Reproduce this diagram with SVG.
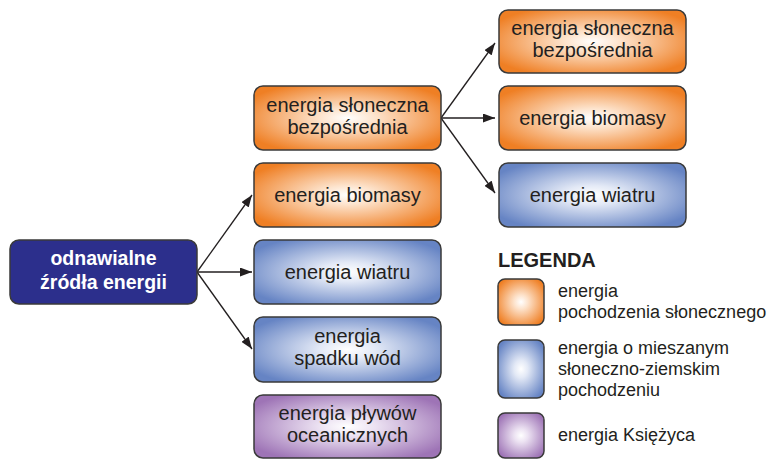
<svg xmlns="http://www.w3.org/2000/svg" width="780" height="459" viewBox="0 0 780 459">
<style>
.box{stroke:#3a3a3a;stroke-width:1.5}
.t{font-family:"Liberation Sans",Arial,sans-serif;font-size:20px;fill:#231f20;text-anchor:middle}
.m{font-family:"Liberation Sans",Arial,sans-serif;font-size:19.5px;font-weight:bold;fill:#fff;text-anchor:middle}
.l{font-family:"Liberation Sans",Arial,sans-serif;font-size:18px;fill:#231f20}
.h{font-family:"Liberation Sans",Arial,sans-serif;font-size:20px;font-weight:bold;fill:#231f20}
.c{stroke:#231f20;stroke-width:1.3;fill:none}
</style>
<defs>
<radialGradient id="og" cx="0.5" cy="0.5" r="0.6">
<stop offset="0" stop-color="#ffffff"/><stop offset="0.25" stop-color="#fde3cc"/><stop offset="1" stop-color="#ef7f24"/>
</radialGradient>
<radialGradient id="bg" cx="0.5" cy="0.5" r="0.6">
<stop offset="0" stop-color="#ffffff"/><stop offset="0.25" stop-color="#e3e9f6"/><stop offset="1" stop-color="#6684c4"/>
</radialGradient>
<radialGradient id="pg" cx="0.5" cy="0.5" r="0.6">
<stop offset="0" stop-color="#ffffff"/><stop offset="0.25" stop-color="#ece2f2"/><stop offset="1" stop-color="#9e74b6"/>
</radialGradient>
<marker id="ar" viewBox="0 0 12 9" refX="12" refY="4.5" markerWidth="12" markerHeight="9" markerUnits="userSpaceOnUse" orient="auto">
<path d="M0,0 L12,4.5 L0,9 Z" fill="#231f20"/>
</marker>
</defs>
<g id="connectors">
<line class="c" x1="197" y1="272" x2="252" y2="195" marker-end="url(#ar)"/>
<line class="c" x1="197" y1="272" x2="252" y2="272" marker-end="url(#ar)"/>
<line class="c" x1="197" y1="272" x2="252" y2="349" marker-end="url(#ar)"/>
<line class="c" x1="441" y1="118" x2="495" y2="43" marker-end="url(#ar)"/>
<line class="c" x1="441" y1="118" x2="495" y2="118" marker-end="url(#ar)"/>
<line class="c" x1="441" y1="118" x2="495" y2="193" marker-end="url(#ar)"/>
</g>
<g id="n-main">
<rect class="box" x="10" y="240" width="187" height="64" rx="9" fill="#2c2f8c"/>
<text class="m" x="103.5" y="265">odnawialne</text>
<text class="m" x="103.5" y="289">źródła energii</text>
</g>
<g id="n-sol1">
<rect class="box" x="254" y="86" width="187" height="64" rx="9" fill="url(#og)"/>
<text class="t" x="347.5" y="112">energia słoneczna</text>
<text class="t" x="347.5" y="134">bezpośrednia</text>
</g>
<g id="n-bio1">
<rect class="box" x="254" y="163" width="187" height="64" rx="9" fill="url(#og)"/>
<text class="t" x="347.5" y="202">energia biomasy</text>
</g>
<g id="n-wiatr1">
<rect class="box" x="254" y="240" width="187" height="64" rx="9" fill="url(#bg)"/>
<text class="t" x="347.5" y="279">energia wiatru</text>
</g>
<g id="n-woda">
<rect class="box" x="254" y="317" width="187" height="65" rx="9" fill="url(#bg)"/>
<text class="t" x="347.5" y="343">energia</text>
<text class="t" x="347.5" y="365">spadku wód</text>
</g>
<g id="n-plywy">
<rect class="box" x="254" y="395" width="187" height="63" rx="9" fill="url(#pg)"/>
<text class="t" x="347.5" y="420">energia pływów</text>
<text class="t" x="347.5" y="442">oceanicznych</text>
</g>
<g id="n-sol2">
<rect class="box" x="499" y="10" width="187" height="63" rx="9" fill="url(#og)"/>
<text class="t" x="592.5" y="35">energia słoneczna</text>
<text class="t" x="592.5" y="57">bezpośrednia</text>
</g>
<g id="n-bio2">
<rect class="box" x="499" y="86" width="187" height="64" rx="9" fill="url(#og)"/>
<text class="t" x="592.5" y="125">energia biomasy</text>
</g>
<g id="n-wiatr2">
<rect class="box" x="499" y="163" width="187" height="64" rx="9" fill="url(#bg)"/>
<text class="t" x="592.5" y="202">energia wiatru</text>
</g>
<g id="legend">
<text class="h" x="498" y="267">LEGENDA</text>
<rect class="box" x="498" y="279" width="46" height="46" rx="7" fill="url(#og)"/>
<text class="l" x="558" y="297">energia</text>
<text class="l" x="558" y="318">pochodzenia słonecznego</text>
<rect class="box" x="498" y="340" width="46" height="58" rx="7" fill="url(#bg)"/>
<text class="l" x="558" y="354">energia o mieszanym</text>
<text class="l" x="558" y="375">słoneczno-ziemskim</text>
<text class="l" x="558" y="396">pochodzeniu</text>
<rect class="box" x="498" y="413" width="46" height="45" rx="7" fill="url(#pg)"/>
<text class="l" x="558" y="441">energia Księżyca</text>
</g>
</svg>
